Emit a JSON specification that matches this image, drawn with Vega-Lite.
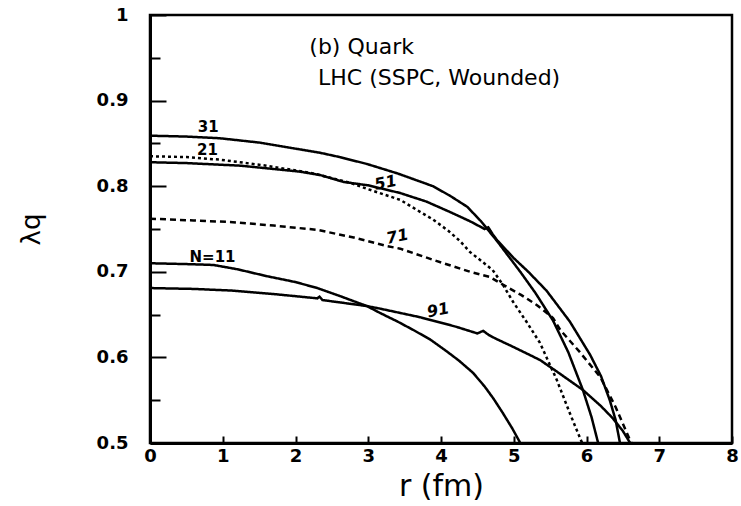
{
  "$schema": "https://vega.github.io/schema/vega-lite/v6.json",
  "width": 582,
  "height": 428,
  "autosize": "none",
  "padding": {"left": 150, "top": 15, "right": 9, "bottom": 63},
  "background": "white",
  "config": {
    "font": "DejaVu Sans",
    "view": {"stroke": "black", "strokeWidth": 2.5},
    "axis": {"grid": false, "domainColor": "black", "domainWidth": 3, "tickColor": "black", "tickWidth": 2, "labelColor": "black", "titleColor": "black", "labelFont": "DejaVu Sans", "titleFont": "DejaVu Sans", "titleFontWeight": "normal"}
  },
  "datasets": {
    "curves": [
      {"s": "N=11", "r": 0, "y": 0.710}, {"s": "N=11", "r": 0.5, "y": 0.709}, {"s": "N=11", "r": 0.87, "y": 0.708}, {"s": "N=11", "r": 1.2, "y": 0.703}, {"s": "N=11", "r": 1.6, "y": 0.695}, {"s": "N=11", "r": 2.0, "y": 0.688}, {"s": "N=11", "r": 2.3, "y": 0.681}, {"s": "N=11", "r": 2.6, "y": 0.672}, {"s": "N=11", "r": 2.98, "y": 0.660}, {"s": "N=11", "r": 3.16, "y": 0.652}, {"s": "N=11", "r": 3.4, "y": 0.642}, {"s": "N=11", "r": 3.62, "y": 0.632}, {"s": "N=11", "r": 3.85, "y": 0.621}, {"s": "N=11", "r": 4.08, "y": 0.607}, {"s": "N=11", "r": 4.25, "y": 0.596}, {"s": "N=11", "r": 4.44, "y": 0.582}, {"s": "N=11", "r": 4.6, "y": 0.566}, {"s": "N=11", "r": 4.72, "y": 0.552}, {"s": "N=11", "r": 4.85, "y": 0.535}, {"s": "N=11", "r": 4.98, "y": 0.517}, {"s": "N=11", "r": 5.09, "y": 0.5},
      {"s": "91", "r": 0, "y": 0.681}, {"s": "91", "r": 0.6, "y": 0.680}, {"s": "91", "r": 1.14, "y": 0.678}, {"s": "91", "r": 1.7, "y": 0.674}, {"s": "91", "r": 2.3, "y": 0.669}, {"s": "91", "r": 2.33, "y": 0.671}, {"s": "91", "r": 2.37, "y": 0.667}, {"s": "91", "r": 2.98, "y": 0.660}, {"s": "91", "r": 3.16, "y": 0.657}, {"s": "91", "r": 3.71, "y": 0.647}, {"s": "91", "r": 4.2, "y": 0.636}, {"s": "91", "r": 4.5, "y": 0.628}, {"s": "91", "r": 4.58, "y": 0.631}, {"s": "91", "r": 4.66, "y": 0.626}, {"s": "91", "r": 4.75, "y": 0.622}, {"s": "91", "r": 5.0, "y": 0.612}, {"s": "91", "r": 5.36, "y": 0.597}, {"s": "91", "r": 5.6, "y": 0.583}, {"s": "91", "r": 5.95, "y": 0.562}, {"s": "91", "r": 6.2, "y": 0.543}, {"s": "91", "r": 6.36, "y": 0.529}, {"s": "91", "r": 6.5, "y": 0.514}, {"s": "91", "r": 6.6, "y": 0.5},
      {"s": "31", "r": 0, "y": 0.859}, {"s": "31", "r": 0.5, "y": 0.858}, {"s": "31", "r": 0.96, "y": 0.856}, {"s": "31", "r": 1.5, "y": 0.851}, {"s": "31", "r": 2.06, "y": 0.843}, {"s": "31", "r": 2.34, "y": 0.839}, {"s": "31", "r": 2.61, "y": 0.834}, {"s": "31", "r": 2.98, "y": 0.826}, {"s": "31", "r": 3.4, "y": 0.815}, {"s": "31", "r": 3.89, "y": 0.800}, {"s": "31", "r": 4.12, "y": 0.789}, {"s": "31", "r": 4.36, "y": 0.776}, {"s": "31", "r": 4.55, "y": 0.759}, {"s": "31", "r": 4.77, "y": 0.736}, {"s": "31", "r": 4.93, "y": 0.718}, {"s": "31", "r": 5.09, "y": 0.700}, {"s": "31", "r": 5.3, "y": 0.675}, {"s": "31", "r": 5.54, "y": 0.643}, {"s": "31", "r": 5.75, "y": 0.606}, {"s": "31", "r": 5.95, "y": 0.562}, {"s": "31", "r": 6.07, "y": 0.530}, {"s": "31", "r": 6.16, "y": 0.5},
      {"s": "51", "r": 0, "y": 0.828}, {"s": "51", "r": 0.5, "y": 0.827}, {"s": "51", "r": 1.24, "y": 0.824}, {"s": "51", "r": 2.06, "y": 0.817}, {"s": "51", "r": 2.34, "y": 0.813}, {"s": "51", "r": 2.66, "y": 0.805}, {"s": "51", "r": 3.0, "y": 0.801}, {"s": "51", "r": 3.44, "y": 0.792}, {"s": "51", "r": 3.8, "y": 0.782}, {"s": "51", "r": 4.12, "y": 0.770}, {"s": "51", "r": 4.4, "y": 0.759}, {"s": "51", "r": 4.6, "y": 0.750}, {"s": "51", "r": 4.65, "y": 0.752}, {"s": "51", "r": 4.71, "y": 0.744}, {"s": "51", "r": 4.77, "y": 0.737}, {"s": "51", "r": 5.0, "y": 0.716}, {"s": "51", "r": 5.2, "y": 0.700}, {"s": "51", "r": 5.45, "y": 0.678}, {"s": "51", "r": 5.77, "y": 0.642}, {"s": "51", "r": 6.05, "y": 0.603}, {"s": "51", "r": 6.2, "y": 0.578}, {"s": "51", "r": 6.32, "y": 0.550}, {"s": "51", "r": 6.4, "y": 0.527}, {"s": "51", "r": 6.46, "y": 0.5},
      {"s": "21", "r": 0, "y": 0.835}, {"s": "21", "r": 0.5, "y": 0.834}, {"s": "21", "r": 0.96, "y": 0.831}, {"s": "21", "r": 1.6, "y": 0.824}, {"s": "21", "r": 2.24, "y": 0.815}, {"s": "21", "r": 2.75, "y": 0.804}, {"s": "21", "r": 2.98, "y": 0.797}, {"s": "21", "r": 3.44, "y": 0.784}, {"s": "21", "r": 3.89, "y": 0.761}, {"s": "21", "r": 4.1, "y": 0.748}, {"s": "21", "r": 4.26, "y": 0.736}, {"s": "21", "r": 4.4, "y": 0.723}, {"s": "21", "r": 4.55, "y": 0.713}, {"s": "21", "r": 4.71, "y": 0.702}, {"s": "21", "r": 4.85, "y": 0.685}, {"s": "21", "r": 4.99, "y": 0.665}, {"s": "21", "r": 5.18, "y": 0.641}, {"s": "21", "r": 5.36, "y": 0.617}, {"s": "21", "r": 5.59, "y": 0.574}, {"s": "21", "r": 5.77, "y": 0.535}, {"s": "21", "r": 5.91, "y": 0.506}, {"s": "21", "r": 5.94, "y": 0.5},
      {"s": "71", "r": 0, "y": 0.762}, {"s": "71", "r": 0.6, "y": 0.760}, {"s": "71", "r": 1.14, "y": 0.758}, {"s": "71", "r": 1.7, "y": 0.754}, {"s": "71", "r": 2.3, "y": 0.749}, {"s": "71", "r": 2.8, "y": 0.740}, {"s": "71", "r": 3.26, "y": 0.730}, {"s": "71", "r": 3.44, "y": 0.727}, {"s": "71", "r": 3.89, "y": 0.714}, {"s": "71", "r": 4.4, "y": 0.700}, {"s": "71", "r": 4.67, "y": 0.694}, {"s": "71", "r": 4.85, "y": 0.685}, {"s": "71", "r": 5.1, "y": 0.673}, {"s": "71", "r": 5.32, "y": 0.661}, {"s": "71", "r": 5.54, "y": 0.646}, {"s": "71", "r": 5.64, "y": 0.632}, {"s": "71", "r": 5.9, "y": 0.607}, {"s": "71", "r": 6.19, "y": 0.577}, {"s": "71", "r": 6.4, "y": 0.542}, {"s": "71", "r": 6.6, "y": 0.503}, {"s": "71", "r": 6.62, "y": 0.5}
    ],
    "flatLabels": [
      {"t": "31", "r": 0.80, "y": 0.869},
      {"t": "21", "r": 0.79, "y": 0.842},
      {"t": "N=11", "r": 0.86, "y": 0.717}
    ],
    "slantLabels": [
      {"t": "51", "r": 3.24, "y": 0.804},
      {"t": "71", "r": 3.40, "y": 0.741},
      {"t": "91", "r": 3.96, "y": 0.655}
    ],
    "notes": [
      {"t": "(b) Quark", "r": 2.19, "y": 0.963},
      {"t": "LHC (SSPC, Wounded)", "r": 2.31, "y": 0.926}
    ]
  },
  "layer": [
    {
      "data": {"name": "curves"},
      "mark": {"type": "line", "color": "black", "strokeWidth": 2.5, "clip": true},
      "encoding": {
        "x": {
          "field": "r", "type": "quantitative",
          "scale": {"domain": [0, 8], "nice": false, "zero": false},
          "axis": {
            "title": "r (fm)", "titleFontSize": 30, "titlePadding": 6,
            "values": [0, 0.5, 1, 1.5, 2, 2.5, 3, 3.5, 4, 4.5, 5, 5.5, 6, 6.5, 7, 7.5, 8],
            "labelExpr": "abs(datum.value - round(datum.value)) < 0.000001 ? format(datum.value, 'd') : ''",
            "labelFontSize": 18, "labelFontWeight": "bold", "labelPadding": 11, "labelFlush": false, "labelOverlap": false,
            "tickSize": {"condition": {"test": "abs(datum.value - round(datum.value)) < 0.000001", "value": -7}, "value": -4}
          }
        },
        "y": {
          "field": "y", "type": "quantitative",
          "scale": {"domain": [0.5, 1], "nice": false, "zero": false},
          "axis": {
            "title": "λq", "titleFontSize": 26, "titlePadding": 52,
            "values": [0.5, 0.525, 0.55, 0.575, 0.6, 0.625, 0.65, 0.675, 0.7, 0.725, 0.75, 0.775, 0.8, 0.825, 0.85, 0.875, 0.9, 0.925, 0.95, 0.975, 1],
            "labelExpr": "abs(datum.value*10 - round(datum.value*10)) < 0.000001 ? (datum.value == 1 ? '1' : format(datum.value, '.1f')) : ''",
            "labelFontSize": 18, "labelFontWeight": "bold", "labelPadding": 38, "labelFlush": false, "labelOverlap": false,
            "tickSize": {"condition": {"test": "abs(datum.value*10 - round(datum.value*10)) < 0.000001", "value": -16}, "value": -10}
          }
        },
        "detail": {"field": "s", "type": "nominal"},
        "strokeDash": {
          "field": "s", "type": "nominal",
          "scale": {"domain": ["N=11", "21", "31", "51", "71", "91"], "range": [[1, 0], [3, 3], [1, 0], [1, 0], [6, 4], [1, 0]]},
          "legend": null
        }
      }
    },
    {
      "data": {"name": "flatLabels"},
      "mark": {"type": "text", "color": "black", "fontSize": 15, "fontWeight": "bold", "align": "center", "baseline": "middle"},
      "encoding": {
        "x": {"field": "r", "type": "quantitative"},
        "y": {"field": "y", "type": "quantitative"},
        "text": {"field": "t"}
      }
    },
    {
      "data": {"name": "slantLabels"},
      "mark": {"type": "text", "color": "black", "fontSize": 16, "fontWeight": "bold", "fontStyle": "italic", "angle": -12, "align": "center", "baseline": "middle"},
      "encoding": {
        "x": {"field": "r", "type": "quantitative"},
        "y": {"field": "y", "type": "quantitative"},
        "text": {"field": "t"}
      }
    },
    {
      "data": {"name": "notes"},
      "mark": {"type": "text", "color": "black", "fontSize": 22, "align": "left", "baseline": "middle"},
      "encoding": {
        "x": {"field": "r", "type": "quantitative"},
        "y": {"field": "y", "type": "quantitative"},
        "text": {"field": "t"}
      }
    }
  ]
}
